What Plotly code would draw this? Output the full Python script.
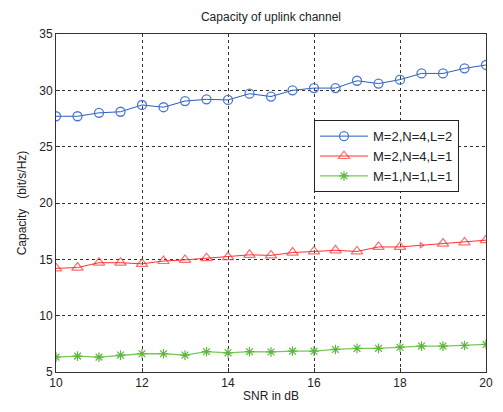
import plotly.graph_objects as go

snr = [10, 10.5, 11, 11.5, 12, 12.5, 13, 13.5, 14, 14.5, 15, 15.5, 16, 16.5, 17, 17.5, 18, 18.5, 19, 19.5, 20]
cap_m2n4l2 = [27.7, 27.7, 28.0, 28.1, 28.7, 28.5, 29.05, 29.2, 29.15, 29.7, 29.45, 30.0, 30.2, 30.2, 30.85, 30.6, 30.95, 31.5, 31.5, 31.95, 32.25]
cap_m2n4l1 = [14.2, 14.27, 14.7, 14.7, 14.6, 14.85, 14.95, 15.1, 15.2, 15.4, 15.35, 15.6, 15.7, 15.8, 15.7, 16.1, 16.1, 16.25, 16.4, 16.5, 16.7]
cap_m1n1l1 = [6.32, 6.41, 6.32, 6.5, 6.62, 6.62, 6.5, 6.8, 6.7, 6.8, 6.78, 6.85, 6.85, 7.0, 7.1, 7.1, 7.2, 7.3, 7.3, 7.35, 7.45]
names = ["M=2,N=4,L=2", "M=2,N=4,L=1", "M=1,N=1,L=1"]

FONT = "Liberation Sans, Arial, sans-serif"

red_symbols = ["triangle-up-open"] * len(snr)
red_symbols[17] = "triangle-right-open"
red_sizes = [10] * len(snr)
red_sizes[17] = 5

fig = go.Figure()
fig.add_trace(go.Scatter(
    x=snr, y=cap_m2n4l2, name=names[0], mode="lines+markers",
    line=dict(color="#2a5cc0", width=1),
    marker=dict(symbol="circle-open", size=9, color="#4a78d0", line=dict(width=1.3)),
))
fig.add_trace(go.Scatter(
    x=snr, y=cap_m2n4l1, name=names[1], mode="lines+markers",
    line=dict(color="#ff3030", width=1),
    marker=dict(symbol=red_symbols, size=red_sizes, color="#ff3030", line=dict(width=1.2)),
))
fig.add_trace(go.Scatter(
    x=snr, y=cap_m1n1l1, name=names[2], mode="lines+markers",
    line=dict(color="#77c95a", width=1.3),
    marker=dict(symbol="asterisk-open", size=8, color="#5cb83c", line=dict(width=1.2, color="#5cb83c")),
))

axis_common = dict(
    showline=True, linecolor="#333333", linewidth=1, mirror=True,
    ticks="inside", ticklen=4, tickcolor="#333333",
    showgrid=True, gridcolor="#333333", griddash="3px,3px", gridwidth=1,
    zeroline=False, tickfont=dict(family=FONT, size=12, color="#222222"),
)

fig.update_layout(
    width=503, height=412,
    margin=dict(l=56, r=10, t=34, b=40),
    paper_bgcolor="white", plot_bgcolor="white",
    font=dict(family=FONT, size=12, color="#222222"),
    title=dict(text="Capacity of uplink channel", x=0.5, xanchor="center", xref="paper",
               y=1 - 17 / 412, yanchor="middle", font=dict(family=FONT, size=12, color="#222222")),
    xaxis=dict(range=[10, 20], tickvals=[10, 12, 14, 16, 18, 20], **axis_common,
               title=dict(text="SNR in dB", standoff=2, font=dict(family=FONT, size=12))),
    yaxis=dict(range=[5, 35], tickvals=[5, 10, 15, 20, 25, 30, 35], **axis_common,
               title=dict(text="Capacity   (bit/s/Hz)", standoff=10, font=dict(family=FONT, size=12))),
    legend=dict(x=0.6, y=0.745, xanchor="left", yanchor="top",
                bordercolor="#222222", borderwidth=1, bgcolor="white",
                font=dict(family=FONT, size=13, color="#222222"),
                tracegroupgap=0, itemwidth=48),
    showlegend=True,
)

fig.write_html("out.html")
